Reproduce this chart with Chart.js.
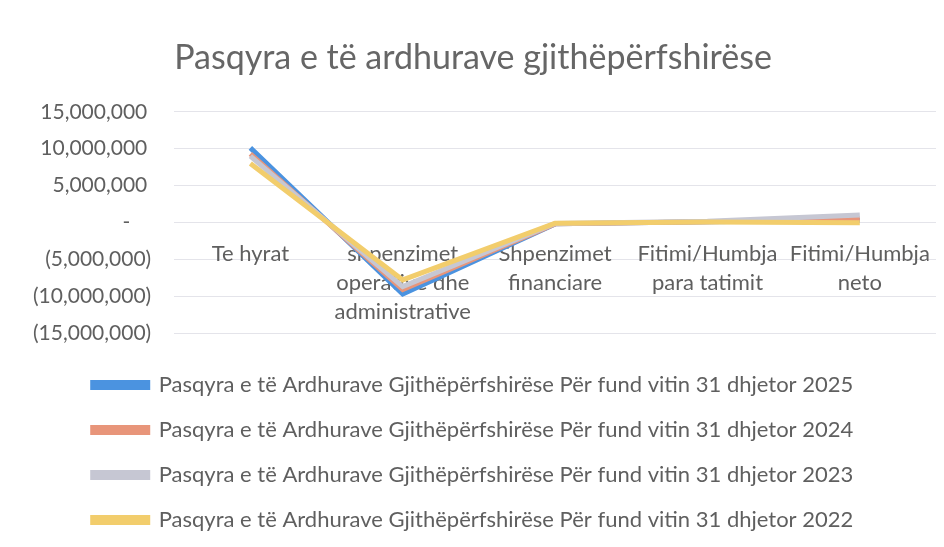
<!DOCTYPE html>
<html>
<head>
<meta charset="utf-8">
<script src="https://cdn.jsdelivr.net/npm/chart.js@4"></script>
<style>
  html, body { margin: 0; padding: 0; background: #fff; }
  #wrap { width: 944px; height: 547px; }
</style>
</head>
<body>
<div id="wrap"><canvas id="chart" width="944" height="547"></canvas></div>
<script>
// Pasqyra e te ardhurave - line chart, 4 years
const categories = [
  'Te hyrat',
  ['shpenzimet', 'operative dhe', 'administrative'],
  ['Shpenzimet', 'financiare'],
  ['Fitimi/Humbja', 'para tatimit'],
  ['Fitimi/Humbja', 'neto']
]
const yearLabels = [
  'Pasqyra e të Ardhurave Gjithëpërfshirëse Për fund vitin 31 dhjetor 2025',
  'Pasqyra e të Ardhurave Gjithëpërfshirëse Për fund vitin 31 dhjetor 2024',
  'Pasqyra e të Ardhurave Gjithëpërfshirëse Për fund vitin 31 dhjetor 2023',
  'Pasqyra e të Ardhurave Gjithëpërfshirëse Për fund vitin 31 dhjetor 2022'
]
const values2025 = [10100000, -9700000, -200000, 100000, 300000]
const values2024 = [9300000, -9100000, -200000, 100000, 500000]
const values2023 = [9000000, -8700000, -150000, 150000, 1000000]
const values2022 = [8000000, -7800000, -100000, 50000, -50000]
const yTicks = [-15000000, -10000000, -5000000, 0, 5000000, 10000000, 15000000]

const colors = ['#4b93e0', '#e8957a', '#c6c7d3', '#f2cd6c']
const textColor = '#5f5f5f'
const fontFamily = 'Lato, "Open Sans", sans-serif'
const LEGEND_GAP = 18 // extra space above legend (x axis sits at zero, takes no room)

function fmtTick (v) {
  if (v === 0) return '-\u2002\u2002'
  const s = Math.abs(v).toLocaleString('en-US')
  return v < 0 ? `(${s})` : s + '\u2009\u200a'
}

const series = [values2025, values2024, values2023, values2022]
const datasets = series.map((vals, i) => ({
  label: yearLabels[i],
  data: vals,
  borderColor: colors[i],
  backgroundColor: colors[i],
  borderWidth: 5,
  pointRadius: 0,
  tension: 0,
  order: 4 - i
}))

const legendGap = {
  id: 'legendGap',
  beforeInit (chart) {
    const fit = chart.legend.fit
    chart.legend.fit = function () {
      fit.call(this)
      this.height += LEGEND_GAP
    }
  },
  afterLayout (chart) {
    chart.legend.top += LEGEND_GAP
  }
}

new Chart(document.getElementById('chart'), {
  type: 'line',
  data: { labels: categories, datasets },
  plugins: [legendGap],
  options: {
    responsive: false,
    animation: false,
    layout: { padding: { left: 10, right: 8, top: 0, bottom: 6 } },
    plugins: {
      title: {
        display: true,
        text: 'Pasqyra e të ardhurave gjithëpërfshirëse',
        color: '#666',
        font: { family: fontFamily, size: 34, weight: 'normal' },
        padding: { top: 38, bottom: 33 }
      },
      legend: {
        position: 'bottom',
        labels: {
          color: textColor,
          font: { family: fontFamily, size: 22 },
          boxWidth: 55,
          boxHeight: 5,
          padding: 23,
          sort: (a, b) => a.datasetIndex - b.datasetIndex
        }
      },
      tooltip: { enabled: false }
    },
    scales: {
      x: {
        position: { y: 0 },
        offset: true,
        grid: { display: false },
        border: { display: false },
        ticks: {
          color: textColor,
          font: { family: fontFamily, size: 22, lineHeight: 1.32 },
          maxRotation: 0,
          autoSkip: false,
          padding: 9
        }
      },
      y: {
        min: -15000000,
        max: 15000000,
        afterBuildTicks: (scale) => { scale.ticks = yTicks.map(v => ({ value: v })) },
        grid: { color: '#e4e4ea', drawTicks: false },
        border: { display: false },
        ticks: {
          color: textColor,
          font: { family: fontFamily, size: 21 },
          padding: 23,
          callback: fmtTick
        }
      }
    }
  }
})
</script>
</body>
</html>
